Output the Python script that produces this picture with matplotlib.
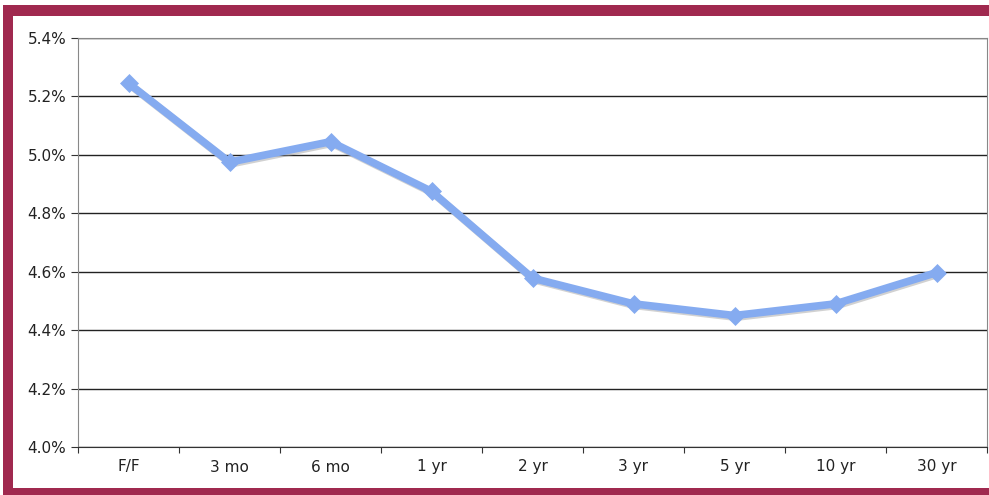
import matplotlib
matplotlib.use("Agg")
import matplotlib.pyplot as plt
import matplotlib.patheffects as pe
from matplotlib.patches import Rectangle
from matplotlib.ticker import FuncFormatter

plt.rcParams["font.family"] = ["DejaVu Sans"]

categories = ["F/F", "3 mo", "6 mo", "1 yr", "2 yr", "3 yr", "5 yr", "10 yr", "30 yr"]
rates = [5.245, 4.975, 5.045, 4.875, 4.578, 4.49, 4.45, 4.49, 4.597]
y_ticks = [4.0, 4.2, 4.4, 4.6, 4.8, 5.0, 5.2, 5.4]

W, H = 989, 495
fig = plt.figure(figsize=(W / 100, H / 100), dpi=100)
fig.patch.set_facecolor("white")

maroon = "#A0294F"
fig.add_artist(Rectangle((3 / W, 1 - 16 / H), 1 - 3 / W, 11 / H, transform=fig.transFigure,
                         facecolor=maroon, edgecolor="none"))
fig.add_artist(Rectangle((3 / W, 0), 10 / W, 1 - 5 / H, transform=fig.transFigure,
                         facecolor=maroon, edgecolor="none"))
fig.add_artist(Rectangle((3 / W, 0), 1 - 3 / W, 7 / H, transform=fig.transFigure,
                         facecolor=maroon, edgecolor="none"))

ax = fig.add_axes([78 / W, 1 - 447 / H, (987 - 78) / W, (447 - 38) / H])
x = [i + 0.5 for i in range(len(categories))]
ax.plot(x, rates, color="#85ABF0", lw=5.5, zorder=3, solid_joinstyle="round",
        path_effects=[pe.SimpleLineShadow(offset=(1, -1.2), shadow_color="#999999", alpha=0.45), pe.Normal()])
ax.plot(x, rates, ls="none", marker="D", ms=9, mfc="#85ABF0", mec="#85ABF0", mew=0.5, zorder=4)

ax.set_xlim(0, len(categories))
ax.set_ylim(4.0, 5.4)
ax.set_yticks(y_ticks)
ax.yaxis.set_major_formatter(FuncFormatter(lambda v, p: f"{v:.1f}%"))
ax.set_xticks(range(len(categories) + 1))
ax.set_xticklabels([])
ax.set_xticks(x, minor=True)
ax.set_xticklabels(categories, minor=True)
ax.tick_params(axis="x", which="minor", length=0, pad=9, labelsize=11, colors="#222222")
ax.tick_params(axis="x", which="major", length=4, direction="out", color="#333333")
ax.tick_params(axis="y", length=5, direction="out", labelsize=11, colors="#222222", color="#333333")

ax.grid(axis="y", color="#222222", lw=1)
ax.set_axisbelow(True)
for s in ["left", "right", "top"]:
    ax.spines[s].set_color("#888888")
ax.spines["bottom"].set_color("#333333")

fig.savefig("out.png", dpi=100, facecolor="white")
